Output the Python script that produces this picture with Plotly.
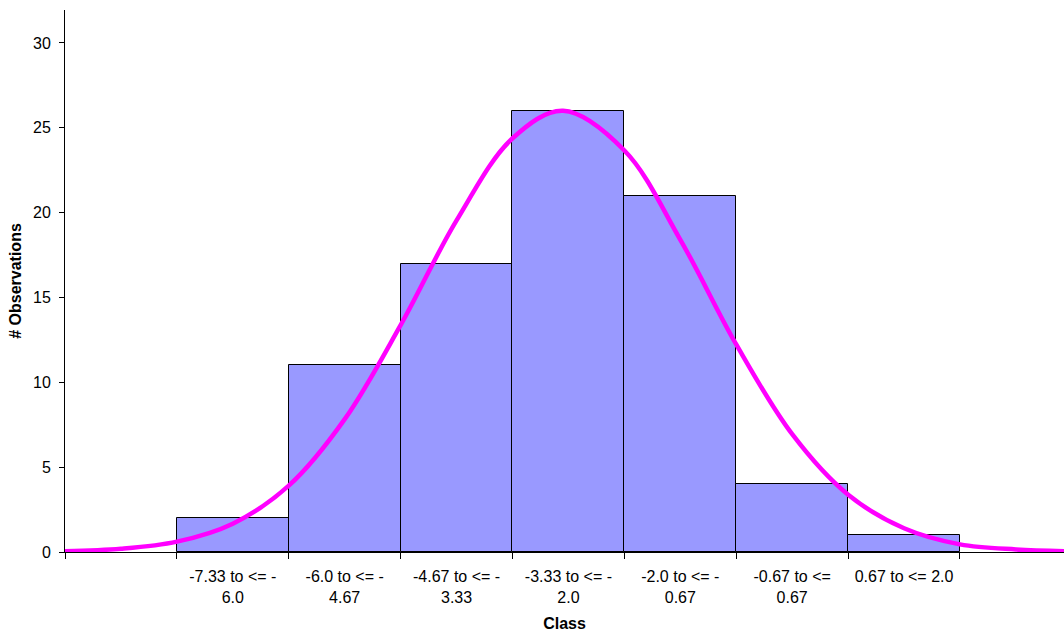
import plotly.graph_objects as go

# Histogram classes and counts
class_labels = ["-7.33 to <= -<br>6.0", "-6.0 to <= -<br>4.67", "-4.67 to <= -<br>3.33",
                "-3.33 to <= -<br>2.0", "-2.0 to <= -<br>0.67", "-0.67 to <=<br>0.67",
                "0.67 to <= 2.0"]
counts = [2, 11, 17, 26, 21, 4, 1]

# Fitted normal curve
curve_x = [-8.667, -8.0, -7.333, -6.667, -6.0, -5.333, -4.667, -4.0, -3.333, -2.73,
           -2.0, -1.333, -0.667, 0.0, 0.667, 1.333, 2.0, 2.667, 3.333]
curve_y = [0.05, 0.19, 0.61, 1.67, 3.91, 7.83, 13.37, 19.54, 24.38, 26.0,
           23.66, 18.40, 12.23, 6.94, 3.37, 1.40, 0.45, 0.15, 0.04]

y_ticks = [0, 5, 10, 15, 20, 25, 30]

cat_array = [" "] + class_labels + ["  "]

font_family = "Liberation Sans, Arial, Helvetica, sans-serif"

fig = go.Figure()
fig.add_trace(go.Bar(
    x=class_labels, y=counts,
    marker=dict(color="#9999FF", line=dict(color="#000000", width=1)),
    width=1.0, showlegend=False, hoverinfo="x+y",
))
fig.add_trace(go.Scatter(
    x=curve_x, y=curve_y, xaxis="x2", mode="lines",
    line=dict(color="#FF00FF", width=4.5, shape="spline", smoothing=1.0),
    showlegend=False,
))

right_idx = 8.43
fig.update_layout(
    width=1064, height=632,
    margin=dict(l=65, r=0, t=10, b=80),
    paper_bgcolor="white", plot_bgcolor="white",
    font=dict(family=font_family, size=16, color="#000000"),
    bargap=0,
    xaxis=dict(
        type="category", categoryorder="array", categoryarray=cat_array,
        range=[-0.5, right_idx], tickson="boundaries", ticks="outside",
        ticklen=6, tickcolor="#000000", showline=True, linecolor="#000000",
        linewidth=1, showgrid=False, zeroline=False, automargin=False,
        ticklabelstandoff=10,
        title=dict(text="<b>Class</b>", font=dict(size=16), standoff=14),
        tickfont=dict(size=16),
    ),
    xaxis2=dict(
        overlaying="x", range=[-8.667, -8.667 + 1.3333 * (right_idx + 0.5)],
        visible=False, showgrid=False, zeroline=False,
    ),
    yaxis=dict(
        range=[0, 31.94], tickvals=y_ticks, ticks="outside", ticklen=5,
        tickcolor="#000000", showline=True, linecolor="#000000", linewidth=1,
        showgrid=False, zeroline=False, automargin=False,
        ticklabelstandoff=5,
        title=dict(text="<b># Observations</b>", font=dict(size=16), standoff=7),
        tickfont=dict(size=16),
    ),
)

fig.write_html("out.html", config={"displayModeBar": False},
               post_script="document.body.style.margin='0';")
